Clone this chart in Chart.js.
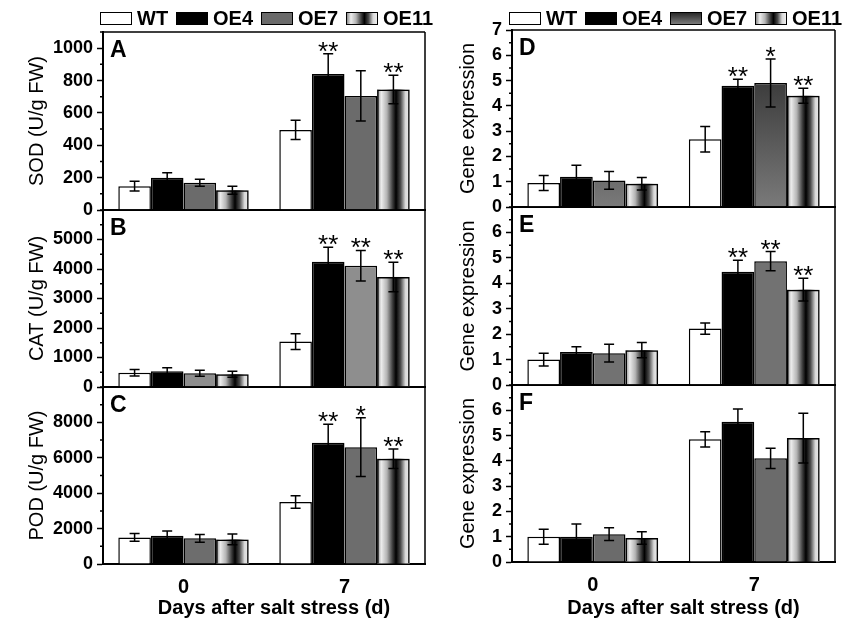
<!DOCTYPE html>
<html><head><meta charset="utf-8">
<script src="https://cdn.jsdelivr.net/npm/chart.js@4.4.1/dist/chart.umd.min.js"></script>
<style>
html,body{margin:0;padding:0;background:#fff;}
#wrap{position:relative;width:846px;height:628px;overflow:hidden;font-family:"Liberation Sans",Arial,sans-serif;background:#fff;}
#wrap canvas{position:absolute;left:0;top:0;}
.bx{position:absolute;top:12px;width:32px;height:13px;box-sizing:border-box;border:1.5px solid #000;}
.lt{position:absolute;top:8px;font-weight:bold;font-size:20px;line-height:20px;color:#000;white-space:nowrap;}
</style></head><body>
<div id="wrap">
  <canvas id="cA" width="846" height="628"></canvas>
  <canvas id="cB" width="846" height="628"></canvas>
  <canvas id="cC" width="846" height="628"></canvas>
  <canvas id="cD" width="846" height="628"></canvas>
  <canvas id="cE" width="846" height="628"></canvas>
  <canvas id="cF" width="846" height="628"></canvas>
  <div id="legends"></div>
</div>
<script>
// ---------------- data ----------------
const CATEGORIES = ['0', '7'];
const SERIES = ['WT', 'OE4', 'OE7', 'OE11'];

// A: SOD (U/g FW)
const sodWT = [147, 495],  sodWTsd = [30, 60];
const sodOE4 = [200, 840], sodOE4sd = [30, 125];
const sodOE7 = [168, 705], sodOE7sd = [22, 155];
const sodOE11 = [122, 745], sodOE11sd = [25, 88];
const sodStars = [['', ''], ['', '**'], ['', ''], ['', '**']];

// B: CAT (U/g FW)
const catWT = [480, 1540],  catWTsd = [110, 265];
const catOE4 = [530, 4250], catOE4sd = [120, 490];
const catOE7 = [465, 4110], catOE7sd = [100, 520];
const catOE11 = [430, 3730], catOE11sd = [100, 500];
const catStars = [['', ''], ['', '**'], ['', '**'], ['', '**']];

// C: POD (U/g FW)
const podWT = [1500, 3500],  podWTsd = [220, 350];
const podOE4 = [1600, 6850], podOE4sd = [270, 1040];
const podOE7 = [1450, 6600], podOE7sd = [220, 1660];
const podOE11 = [1390, 5950], podOE11sd = [300, 550];
const podStars = [['', ''], ['', '**'], ['', '*'], ['', '**']];

// D: Gene expression
const dWT = [0.95, 2.68],  dWTsd = [0.3, 0.5];
const dOE4 = [1.2, 4.8],   dOE4sd = [0.45, 0.25];
const dOE7 = [1.05, 4.9],  dOE7sd = [0.35, 0.95];
const dOE11 = [0.92, 4.4], dOE11sd = [0.25, 0.3];
const dStars = [['', ''], ['', '**'], ['', '*'], ['', '**']];

// E: Gene expression
const eWT = [1.0, 2.22],   eWTsd = [0.25, 0.22];
const eOE4 = [1.3, 4.45],  eOE4sd = [0.2, 0.46];
const eOE7 = [1.25, 4.87], eOE7sd = [0.35, 0.38];
const eOE11 = [1.37, 3.75], eOE11sd = [0.3, 0.45];
const eStars = [['', ''], ['', '**'], ['', '**'], ['', '**']];

// F: Gene expression
const fWT = [1.0, 4.85],   fWTsd = [0.3, 0.3];
const fOE4 = [1.0, 5.55],  fOE4sd = [0.5, 0.5];
const fOE7 = [1.1, 4.1],   fOE7sd = [0.25, 0.4];
const fOE11 = [0.95, 4.9], fOE11sd = [0.25, 0.98];
const fStars = [['', ''], ['', ''], ['', ''], ['', '']];

// ---------------- drawing ----------------
const FONT = '"Liberation Sans", Arial, sans-serif';
const OE11_STOPS = [[0,'#8c8c8c'],[0.13,'#ececec'],[0.3,'#b4b4b4'],[0.47,'#404040'],[0.58,'#000000'],[0.72,'#4a4a4a'],[0.87,'#d8d8d8'],[1,'#ededed']];

function isMajorVal(v, p) {
  const r = v / p.labelStep;
  return Math.abs(r - Math.round(r)) < 1e-6 && v <= p.labelMax + 1e-9;
}

const panelPlugin = {
  id: 'panelDeco',
  beforeDatasetDraw(chart, args) {
    if (args.index !== 3) return;
    const ctx = chart.ctx;
    args.meta.data.forEach(el => {
      const {x, y, base, width} = el.getProps(['x', 'y', 'base', 'width'], true);
      const l = x - width / 2;
      const g = ctx.createLinearGradient(l, 0, l + width, 0);
      OE11_STOPS.forEach(s => g.addColorStop(s[0], s[1]));
      ctx.save();
      ctx.fillStyle = g;
      ctx.fillRect(l, Math.min(y, base), width, Math.abs(base - y));
      ctx.restore();
    });
  },
  afterDatasetsDraw(chart) {
    const ctx = chart.ctx, ys = chart.scales.y;
    ctx.save();
    chart.data.datasets.forEach((ds, i) => {
      const meta = chart.getDatasetMeta(i);
      meta.data.forEach((el, j) => {
        const v = ds.data[j], e = ds.errors[j];
        const x = el.x;
        const yt = ys.getPixelForValue(v + e), yb = ys.getPixelForValue(v - e);
        ctx.strokeStyle = '#000';
        ctx.lineWidth = 1.5;
        ctx.beginPath();
        ctx.moveTo(x, yt); ctx.lineTo(x, yb);
        ctx.moveTo(x - 5, yt); ctx.lineTo(x + 5, yt);
        ctx.moveTo(x - 5, yb); ctx.lineTo(x + 5, yb);
        ctx.stroke();
        const s = ds.stars[j];
        if (s) {
          ctx.fillStyle = '#000';
          ctx.font = '26px ' + FONT;
          ctx.textAlign = 'center';
          ctx.textBaseline = 'alphabetic';
          ctx.fillText(s, x, yt + 6);
        }
      });
    });
    ctx.restore();
  },
  afterDraw(chart) {
    const p = chart.options.plugins.panelDeco;
    const ctx = chart.ctx, ca = chart.chartArea, ys = chart.scales.y;
    ctx.save();
    ctx.strokeStyle = '#000';
    ctx.lineWidth = 1.5;
    ctx.beginPath();
    ctx.moveTo(ca.left, ca.top); ctx.lineTo(ca.right, ca.top);
    ctx.moveTo(ca.right, ca.top); ctx.lineTo(ca.right, ca.bottom);
    ctx.stroke();
    ctx.beginPath();
    ys.ticks.forEach(t => {
      if (!isMajorVal(t.value, p)) {
        const y = ys.getPixelForValue(t.value);
        ctx.moveTo(ca.left - 3, y); ctx.lineTo(ca.left, y);
      }
    });
    ctx.stroke();
    ctx.fillStyle = '#000';
    ctx.font = 'bold 23px ' + FONT;
    ctx.textAlign = 'left';
    ctx.textBaseline = 'alphabetic';
    ctx.fillText(p.letter, ca.left + 7, ca.top + 25);
    if (p.xTitle) {
      ctx.font = 'bold 20px ' + FONT;
      ctx.textAlign = 'center';
      ctx.textBaseline = 'middle';
      ctx.fillText(p.xTitle, (ca.left + ca.right) / 2 + 10, 608);
    }
    ctx.restore();
  }
};

function d7Gradient(c) {
  const ca = c.chart.chartArea;
  if (!ca) return '#555555';
  const g = c.chart.ctx.createLinearGradient(0, ca.top, 0, ca.bottom);
  g.addColorStop(0, '#222222');
  g.addColorStop(1, '#7a7a7a');
  return g;
}

function buildPanel(id, p) {
  const datasets = SERIES.map((name, i) => ({
    label: name,
    data: p.values[i],
    errors: p.errors[i],
    stars: p.stars[i],
    backgroundColor: p.fills[i],
    borderColor: '#000',
    borderWidth: 1.5
  }));
  return new Chart(document.getElementById(id), {
    type: 'bar',
    data: { labels: CATEGORIES, datasets },
    plugins: [panelPlugin],
    options: {
      responsive: false,
      animation: false,
      devicePixelRatio: 1,
      events: [],
      layout: { padding: { left: p.padL, right: 846 - p.area.right, top: p.area.top, bottom: 628 - p.area.bottom - p.xH } },
      datasets: { bar: { categoryPercentage: 0.81, barPercentage: 1.0 } },
      plugins: {
        legend: { display: false },
        tooltip: { enabled: false },
        panelDeco: { letter: p.letter, xTitle: p.xTitle, labelStep: p.labelStep, labelMax: p.labelMax }
      },
      scales: {
        x: {
          type: 'category',
          offset: true,
          grid: { display: false, drawTicks: false },
          border: { display: true, color: '#000', width: 2 },
          ticks: { display: p.showX, autoSkip: false, maxRotation: 0, padding: 11, color: '#000',
                   font: { family: FONT, size: 20, weight: 'bold' } },
          afterFit: s => { s.height = p.xH; }
        },
        y: {
          min: 0,
          max: p.max,
          afterFit: s => { s.width = p.area.left - p.padL; },
          ticks: {
            stepSize: p.step, autoSkip: false, padding: 4, color: '#000',
            font: { family: FONT, size: 18, weight: 'bold' },
            callback: v => isMajorVal(v, p) ? String(v) : ''
          },
          grid: {
            display: true, drawOnChartArea: false, drawTicks: true, tickLength: 6, tickWidth: 1.5,
            tickColor: c => (c.tick && isMajorVal(c.tick.value, p)) ? '#000' : 'rgba(0,0,0,0)'
          },
          border: { display: true, color: '#000', width: 2 },
          title: { display: true, text: p.yTitle, color: '#000', padding: { top: 0, bottom: 0 },
                   font: { family: FONT, size: 20, weight: 'normal' } }
        }
      }
    }
  });
}

const LEFT = { left: 103, right: 425 };
const RIGHT = { left: 512, right: 835 };
const XT = 'Days after salt stress (d)';

buildPanel('cA', {
  area: { left: LEFT.left, right: LEFT.right, top: 32, bottom: 210 }, padL: 25, xH: 0, showX: false,
  max: 1100, step: 100, labelStep: 200, labelMax: 1000, letter: 'A', yTitle: 'SOD (U/g FW)',
  values: [sodWT, sodOE4, sodOE7, sodOE11], errors: [sodWTsd, sodOE4sd, sodOE7sd, sodOE11sd], stars: sodStars,
  fills: ['#ffffff', '#000000', '#6b6b6b', 'rgba(0,0,0,0)']
});
buildPanel('cB', {
  area: { left: LEFT.left, right: LEFT.right, top: 210, bottom: 387 }, padL: 25, xH: 0, showX: false,
  max: 6000, step: 500, labelStep: 1000, labelMax: 5000, letter: 'B', yTitle: 'CAT (U/g FW)',
  values: [catWT, catOE4, catOE7, catOE11], errors: [catWTsd, catOE4sd, catOE7sd, catOE11sd], stars: catStars,
  fills: ['#ffffff', '#000000', '#8e8e8e', 'rgba(0,0,0,0)']
});
buildPanel('cC', {
  area: { left: LEFT.left, right: LEFT.right, top: 387, bottom: 564 }, padL: 25, xH: 60, showX: true, xTitle: XT,
  max: 10000, step: 1000, labelStep: 2000, labelMax: 8000, letter: 'C', yTitle: 'POD (U/g FW)',
  values: [podWT, podOE4, podOE7, podOE11], errors: [podWTsd, podOE4sd, podOE7sd, podOE11sd], stars: podStars,
  fills: ['#ffffff', '#000000', '#6d6d6d', 'rgba(0,0,0,0)']
});
buildPanel('cD', {
  area: { left: RIGHT.left, right: RIGHT.right, top: 30, bottom: 207 }, padL: 456, xH: 0, showX: false,
  max: 7, step: 0.5, labelStep: 1, labelMax: 7, letter: 'D', yTitle: 'Gene expression',
  values: [dWT, dOE4, dOE7, dOE11], errors: [dWTsd, dOE4sd, dOE7sd, dOE11sd], stars: dStars,
  fills: ['#ffffff', '#000000', d7Gradient, 'rgba(0,0,0,0)']
});
buildPanel('cE', {
  area: { left: RIGHT.left, right: RIGHT.right, top: 207, bottom: 385 }, padL: 456, xH: 0, showX: false,
  max: 7, step: 0.5, labelStep: 1, labelMax: 6, letter: 'E', yTitle: 'Gene expression',
  values: [eWT, eOE4, eOE7, eOE11], errors: [eWTsd, eOE4sd, eOE7sd, eOE11sd], stars: eStars,
  fills: ['#ffffff', '#000000', '#727272', 'rgba(0,0,0,0)']
});
buildPanel('cF', {
  area: { left: RIGHT.left, right: RIGHT.right, top: 385, bottom: 562 }, padL: 456, xH: 62, showX: true, xTitle: XT,
  max: 7, step: 0.5, labelStep: 1, labelMax: 6, letter: 'F', yTitle: 'Gene expression',
  values: [fWT, fOE4, fOE7, fOE11], errors: [fWTsd, fOE4sd, fOE7sd, fOE11sd], stars: fStars,
  fills: ['#ffffff', '#000000', '#6b6b6b', 'rgba(0,0,0,0)']
});

// ---------------- legends (HTML) ----------------
const LEGEND_BOX_X = [100, 176, 261, 346];
const OE11_CSS = 'linear-gradient(to right,' + OE11_STOPS.map(s => s[1] + ' ' + (s[0] * 100) + '%').join(',') + ')';
function buildLegend(offsetX, oe7Css) {
  const host = document.getElementById('legends');
  const fills = ['#ffffff', '#000000', oe7Css, OE11_CSS];
  SERIES.forEach((name, i) => {
    const b = document.createElement('div');
    b.className = 'bx';
    b.style.left = (LEGEND_BOX_X[i] + offsetX) + 'px';
    b.style.background = fills[i];
    host.appendChild(b);
    const t = document.createElement('div');
    t.className = 'lt';
    t.style.left = (LEGEND_BOX_X[i] + offsetX + 37) + 'px';
    t.textContent = name;
    host.appendChild(t);
  });
}
buildLegend(0, '#6b6b6b');
buildLegend(409, 'linear-gradient(to bottom, #2a2a2a, #7a7a7a)');
</script>
</body></html>
